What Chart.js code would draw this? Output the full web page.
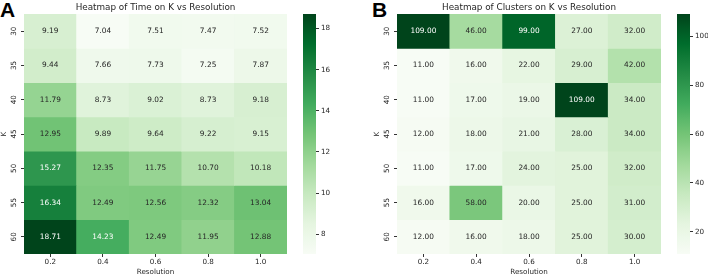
<!DOCTYPE html>
<html>
<head>
<meta charset="utf-8">
<script src="https://cdn.jsdelivr.net/npm/chart.js@4"></script>
<style>
  html, body { margin: 0; padding: 0; background: #fff; overflow: hidden; width: 708px; height: 275px; }
  canvas { position: absolute; top: 0; }
  .panel { position: absolute; top: -1px; font: bold 21px "Liberation Sans", Arial, sans-serif; line-height: 21px; color: #000; }
</style>
</head>
<body>
<div class="panel" style="left:0px">A</div>
<div class="panel" style="left:372px">B</div>
<canvas id="heatA" width="287" height="276" style="left:0px"></canvas>
<canvas id="barA" width="40" height="276" style="left:303px"></canvas>
<canvas id="heatB" width="288" height="276" style="left:373px"></canvas>
<canvas id="barB" width="40" height="276" style="left:677px"></canvas>
<script>
(function () {
  var resolutions = ["0.2", "0.4", "0.6", "0.8", "1.0"];
  var kValues = ["30", "35", "40", "45", "50", "55", "60"];

  // rows = K, columns = resolution
  var timeValues = [
    [9.19, 7.04, 7.51, 7.47, 7.52],
    [9.44, 7.66, 7.73, 7.25, 7.87],
    [11.79, 8.73, 9.02, 8.73, 9.18],
    [12.95, 9.89, 9.64, 9.22, 9.15],
    [15.27, 12.35, 11.75, 10.70, 10.18],
    [16.34, 12.49, 12.56, 12.32, 13.04],
    [18.71, 14.23, 12.49, 11.95, 12.88]
  ];
  var clusterValues = [
    [109, 46, 99, 27, 32],
    [11, 16, 22, 29, 42],
    [11, 17, 19, 109, 34],
    [12, 18, 21, 28, 34],
    [11, 17, 24, 25, 32],
    [16, 58, 20, 25, 31],
    [12, 16, 18, 25, 30]
  ];
  var timeTicks = [8, 10, 12, 14, 16, 18];
  var clusterTicks = [20, 40, 60, 80, 100];

  var FONT = '"DejaVu Sans", sans-serif';
  var INK = "#262626";
  Chart.defaults.font.family = FONT;
  Chart.defaults.color = INK;

  /** matplotlib "Greens" */
  var greensStops = [
    [247, 252, 245], [229, 245, 224], [199, 233, 192], [161, 217, 155],
    [116, 196, 118], [65, 171, 93], [35, 139, 69], [0, 109, 44], [0, 68, 27]
  ];

  function greensRgb(t) {
    t = Math.min(Math.max(t, 0), 1);
    var pos = t * (greensStops.length - 1);
    var i = Math.min(Math.floor(pos), greensStops.length - 2);
    var f = pos - i;
    var a = greensStops[i], b = greensStops[i + 1];
    return [0, 1, 2].map(function (k) { return a[k] + (b[k] - a[k]) * f; });
  }

  function rgbStr(c) {
    return "rgb(" + c.map(Math.round).join(",") + ")";
  }

  // seaborn picks annotation colour from luminance
  function textColorFor(c) {
    var lin = c.map(function (v) {
      v = v / 255;
      return v <= 0.03928 ? v / 12.92 : Math.pow((v + 0.055) / 1.055, 2.4);
    });
    var lum = 0.2126 * lin[0] + 0.7152 * lin[1] + 0.0722 * lin[2];
    return lum > 0.408 ? INK : "#ffffff";
  }

  function flatMin(rows) { return Math.min.apply(null, [].concat.apply([], rows)); }
  function flatMax(rows) { return Math.max.apply(null, [].concat.apply([], rows)); }

  var cellLabels = {
    id: "cellLabels",
    afterDatasetsDraw: function (chart, args, opts) {
      var ctx = chart.ctx;
      ctx.save();
      ctx.font = "7.4px " + FONT;
      ctx.textAlign = "center";
      ctx.textBaseline = "middle";
      chart.data.datasets.forEach(function (ds, r) {
        chart.getDatasetMeta(r).data.forEach(function (bar, c) {
          var v = opts.values[r][c];
          var p = bar.getCenterPoint();
          ctx.fillStyle = textColorFor(greensRgb((v - opts.vmin) / (opts.vmax - opts.vmin)));
          ctx.fillText(v.toFixed(2), p.x, p.y);
        });
      });
      ctx.restore();
    }
  };

  function makeHeatmap(id, title, values) {
    var vmin = flatMin(values), vmax = flatMax(values);
    var datasets = values.map(function (row, r) {
      return {
        data: row.map(function () { return [r, r + 1]; }),
        backgroundColor: row.map(function (v) { return rgbStr(greensRgb((v - vmin) / (vmax - vmin))); }),
        borderWidth: 0,
        barPercentage: 1,
        categoryPercentage: 1,
        grouped: false
      };
    });

    new Chart(document.getElementById(id), {
      type: "bar",
      data: { labels: resolutions, datasets: datasets },
      plugins: [cellLabels],
      options: {
        responsive: false,
        animation: false,
        events: [],
        layout: { padding: 0 },
        scales: {
          x: {
            grid: { offset: false, drawOnChartArea: false, tickLength: 3, color: "#333" },
            border: { display: false },
            ticks: { font: { size: 7.2 }, padding: 1, maxRotation: 0 },
            title: { display: true, text: "Resolution", font: { size: 7.2 }, padding: 0 },
            afterFit: function (s) { s.height = 22; }
          },
          y: {
            type: "linear",
            min: 0,
            max: kValues.length,
            reverse: true,
            afterBuildTicks: function (s) {
              s.ticks = kValues.map(function (k, i) { return { value: i + 0.5 }; });
            },
            ticks: {
              callback: function (v, i) { return kValues[i]; },
              minRotation: 90,
              maxRotation: 90,
              crossAlign: "center",
              padding: 2,
              font: { size: 7.2 }
            },
            grid: { drawOnChartArea: false, tickLength: 3, color: "#333" },
            border: { display: false },
            title: { display: true, text: "K", font: { size: 7.2 }, padding: 0 },
            afterFit: function (s) { s.width = 24; }
          }
        },
        plugins: {
          legend: { display: false },
          tooltip: { enabled: false },
          title: {
            display: true,
            text: title,
            fullSize: false,
            color: INK,
            font: { size: 8.8, weight: "normal" },
            padding: { top: 2, bottom: 1.5 }
          },
          cellLabels: { values: values, vmin: vmin, vmax: vmax }
        }
      }
    });
  }

  function makeColorbar(id, values, ticks) {
    var vmin = flatMin(values), vmax = flatMax(values);
    new Chart(document.getElementById(id), {
      type: "bar",
      data: {
        labels: [""],
        datasets: [{
          data: [[vmin, vmax]],
          borderWidth: 0,
          barPercentage: 1,
          categoryPercentage: 1,
          backgroundColor: function (c) {
            var area = c.chart.chartArea;
            if (!area) return "#74c476";
            var g = c.chart.ctx.createLinearGradient(0, area.bottom, 0, area.top);
            for (var i = 0; i <= 32; i++) g.addColorStop(i / 32, rgbStr(greensRgb(i / 32)));
            return g;
          }
        }]
      },
      options: {
        responsive: false,
        animation: false,
        events: [],
        layout: { padding: { top: 14, bottom: 22, left: 0, right: 0 } },
        scales: {
          x: { display: false },
          y: {
            position: "right",
            min: vmin,
            max: vmax,
            afterBuildTicks: function (s) {
              s.ticks = ticks.map(function (v) { return { value: v }; });
            },
            ticks: { font: { size: 7.2 }, padding: 2 },
            grid: { drawOnChartArea: false, tickLength: 3, color: "#333" },
            border: { display: false },
            afterFit: function (s) { s.width = 27; }
          }
        },
        plugins: { legend: { display: false }, tooltip: { enabled: false } }
      }
    });
  }

  makeHeatmap("heatA", "Heatmap of Time on K vs Resolution", timeValues);
  makeColorbar("barA", timeValues, timeTicks);
  makeHeatmap("heatB", "Heatmap of Clusters on K vs Resolution", clusterValues);
  makeColorbar("barB", clusterValues, clusterTicks);
})();
</script>
</body>
</html>
